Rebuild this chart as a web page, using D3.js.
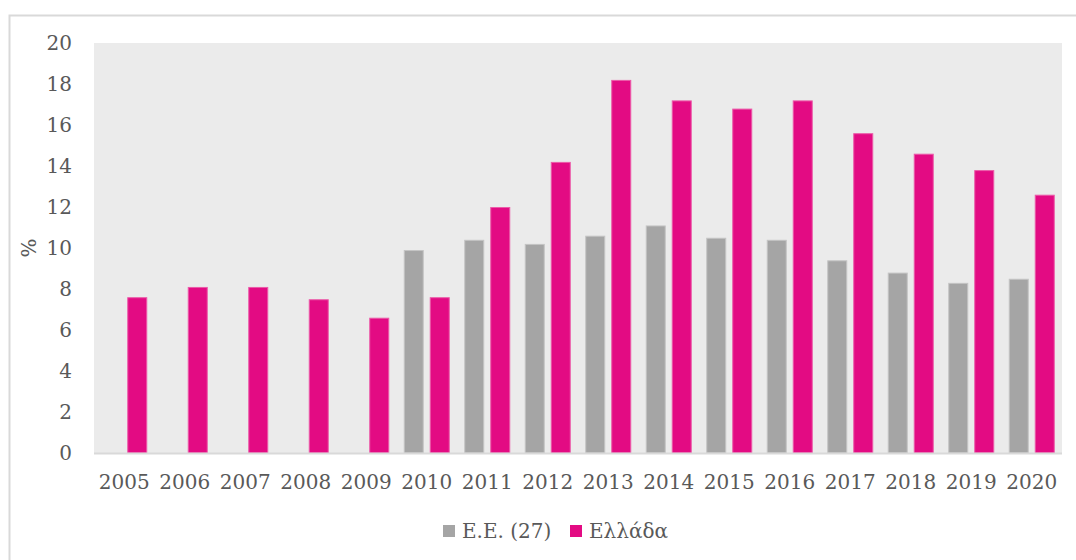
<!DOCTYPE html>
<html><head><meta charset="utf-8">
<script src="https://cdn.jsdelivr.net/npm/d3@7"></script>
<style>body{margin:0;background:#fff;} svg{display:block;}</style>
</head><body>
<script>
const years = ["2005","2006","2007","2008","2009","2010","2011","2012","2013","2014","2015","2016","2017","2018","2019","2020"];
const euValues = [null,null,null,null,null,9.9,10.4,10.2,10.6,11.1,10.5,10.4,9.4,8.8,8.3,8.5];
const grValues = [7.6,8.1,8.1,7.5,6.6,7.6,12.0,14.2,18.2,17.2,16.8,17.2,15.6,14.6,13.8,12.6];
const seriesNames = ["Ε.Ε. (27)","Ελλάδα"];
const yTicks = [0,2,4,6,8,10,12,14,16,18,20];
const yLabel = "%";

const W=1076,H=560;
const font = "'DejaVu Serif', serif";
const textColor = "#595959";
const colors = {fill:["#A5A5A5","#E30B83"], stroke:["#C4C4C4","#EC5AA8"]};

const svg = d3.select("body").append("svg").attr("width",W).attr("height",H);
svg.append("rect").attr("x",9.5).attr("y",15.5).attr("width",W+10).attr("height",H+10)
  .attr("fill","#fff").attr("stroke","#D9D9D9").attr("stroke-width",2);

const m = {l:94, r:1062, t:43, b:453};
const x = d3.scaleBand().domain(years).range([m.l,m.r]).paddingInner(0).paddingOuter(0);
const y = d3.scaleLinear().domain([0,20]).range([m.b,m.t]);

svg.append("rect").attr("x",m.l).attr("y",m.t).attr("width",m.r-m.l).attr("height",m.b-m.t).attr("fill","#EBEBEB");

const barW = 20, gap = 6;
const series = [euValues, grValues];
series.forEach((vals,si)=>{
  svg.append("g").selectAll("rect").data(years.map((yr,i)=>({yr,v:vals[i]})).filter(d=>d.v!=null))
   .join("rect")
   .attr("x",d=>x(d.yr)+x.bandwidth()/2 + (si===0 ? -(barW+gap/2) : gap/2) + 0.5)
   .attr("y",d=>y(d.v)+0.5)
   .attr("width",barW-1)
   .attr("height",d=>y(0)-y(d.v)-0.5)
   .attr("fill",colors.fill[si])
   .attr("stroke",colors.stroke[si]).attr("stroke-width",1);
});

// bottom axis line
svg.append("line").attr("x1",m.l).attr("x2",m.r).attr("y1",m.b+0.5).attr("y2",m.b+0.5)
  .attr("stroke","#D9D9D9").attr("stroke-width",2);

// y axis
const ya = svg.append("g").attr("transform",`translate(${m.l},0)`)
  .call(d3.axisLeft(y).tickValues(yTicks).tickSize(0).tickPadding(22));
ya.select(".domain").remove();
ya.selectAll("text").attr("font-family",font).attr("font-size",20).attr("fill",textColor);

// x axis
const xa = svg.append("g").attr("transform",`translate(0,${m.b})`)
  .call(d3.axisBottom(x).tickSize(0).tickPadding(22));
xa.select(".domain").remove();
xa.selectAll("text").attr("font-family",font).attr("font-size",20).attr("fill",textColor);

svg.append("text").attr("transform","translate(36,248) rotate(-90)").attr("text-anchor","middle")
  .attr("font-family",font).attr("font-size",20).attr("fill",textColor).text(yLabel);

// legend
const legX=[443,570];
seriesNames.forEach((n,i)=>{
  svg.append("rect").attr("x",legX[i]).attr("y",525).attr("width",12).attr("height",12).attr("fill",colors.fill[i]);
  svg.append("text").attr("x",legX[i]+19).attr("y",538).attr("font-family",font).attr("font-size",20)
    .attr("fill",textColor).text(n);
});
</script>
</body></html>
